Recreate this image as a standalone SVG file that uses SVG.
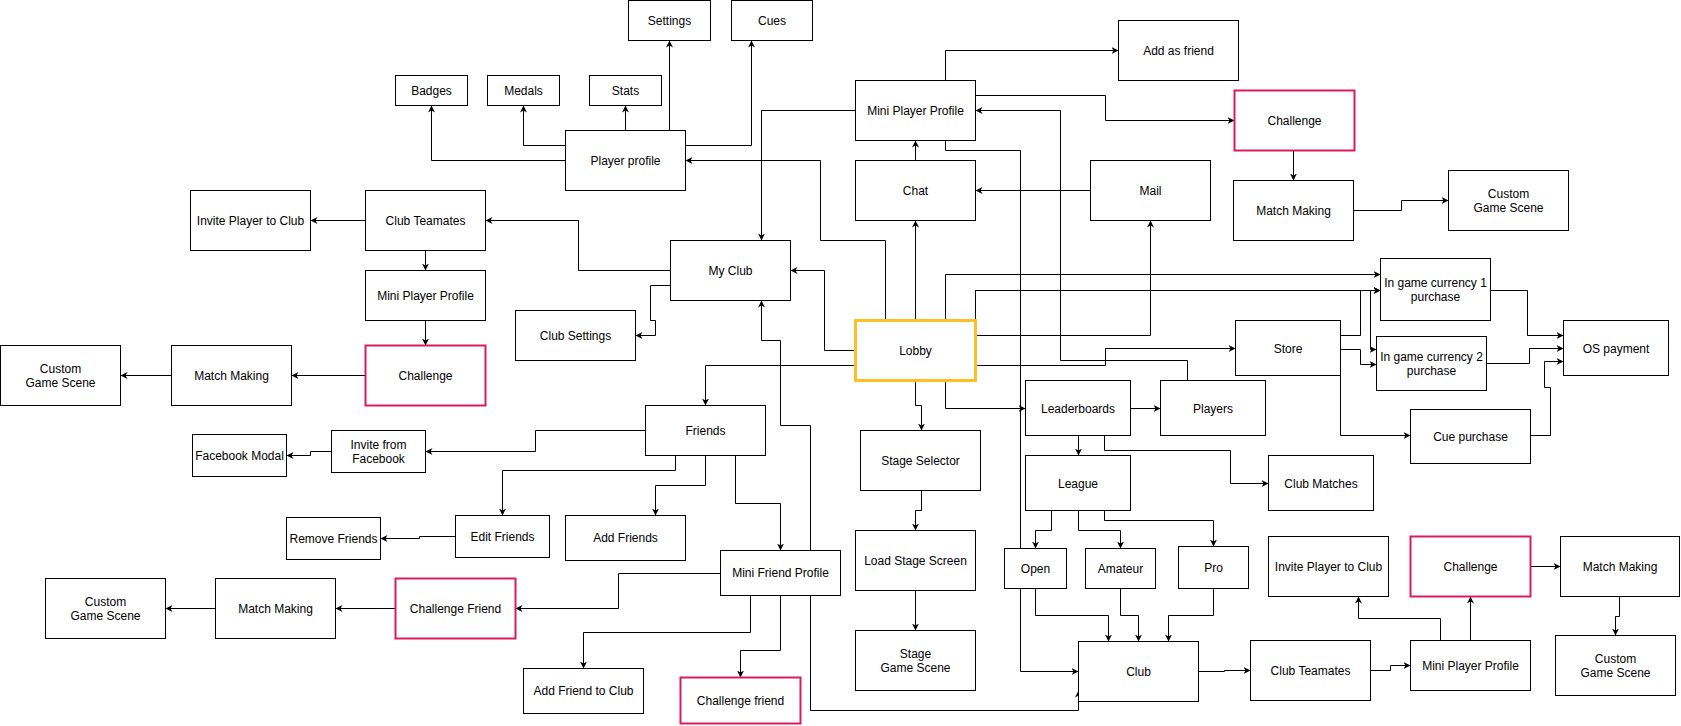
<svg xmlns="http://www.w3.org/2000/svg" width="1681" height="726" viewBox="0 0 1681 726">
<style>
rect{fill:#fff;stroke:#000;stroke-width:1}
rect.r{stroke:#DA1C5A;stroke-width:2}
rect.y{stroke:#FDBF23;stroke-width:3}
text{font-family:"Liberation Sans",Arial,Helvetica,sans-serif;font-size:12px;fill:#000;text-anchor:middle}
#edges path{fill:none;stroke:#000;stroke-width:1;marker-end:url(#a)}
</style>
<defs>
<marker id="a" markerWidth="9" markerHeight="9" refX="7" refY="4" orient="auto-start-reverse" markerUnits="userSpaceOnUse"><path d="M0,0.5 L7,4 L0,7.5 L2,4 Z" fill="#000"/></marker>
</defs>
<rect x="0" y="0" width="1681" height="726" style="stroke:none;fill:#fff"/>
<g transform="translate(0.5,0.5)">
<g id="edges">
<path d="M669,130V40"/>
<path d="M625,130V105"/>
<path d="M685,145H751V40"/>
<path d="M565,145H523V105"/>
<path d="M565,160H431V105"/>
<path d="M885,320V240H820V160H685"/>
<path d="M915,320V220"/>
<path d="M915,160V140"/>
<path d="M945,80V50H1118"/>
<path d="M975,95H1105V120H1234"/>
<path d="M1293,150V180"/>
<path d="M1353,210H1401V200H1448"/>
<path d="M855,110H761V240"/>
<path d="M1090,190H975"/>
<path d="M975,335H1150V220"/>
<path d="M1187,380V360H1060V110H975"/>
<path d="M945,140V150H1020V671H1078"/>
<path d="M855,350H824V270H790"/>
<path d="M670,270H578V220H485"/>
<path d="M670,285H650V320H655V335H635"/>
<path d="M365,220H310"/>
<path d="M425,250V270"/>
<path d="M425,320V345"/>
<path d="M365,375H291"/>
<path d="M171,375H120"/>
<path d="M945,320V274H1380"/>
<path d="M975,320V290H1380"/>
<path d="M975,320V290H1370V349H1376"/>
<path d="M1340,335H1360V290H1380"/>
<path d="M1340,349H1360V364H1376"/>
<path d="M1340,375V435H1410"/>
<path d="M1490,290H1527V335H1563"/>
<path d="M1486,363H1529V348H1563"/>
<path d="M1530,435H1550V387H1544V361H1563"/>
<path d="M975,365H1105V348H1235"/>
<path d="M945,380V408H1025"/>
<path d="M1130,408H1160"/>
<path d="M1078,435V455"/>
<path d="M1104,435V450H1230V483H1268"/>
<path d="M1051,510V530H1035V548"/>
<path d="M1078,510V530H1120V548"/>
<path d="M1104,510V520H1213V546"/>
<path d="M1035,588V615H1108V641"/>
<path d="M1120,588V615H1138V641"/>
<path d="M1213,588V615H1168V641"/>
<path d="M1198,671H1224V670H1250"/>
<path d="M1370,670H1390V665H1410"/>
<path d="M1440,640V618H1358V596"/>
<path d="M1470,640V596"/>
<path d="M1530,566H1560"/>
<path d="M1619,596V616H1615V635"/>
<path d="M855,365H705V405"/>
<path d="M645,430H535V451H425"/>
<path d="M331,451H310V455H286"/>
<path d="M675,455V470H502V515"/>
<path d="M455,536H419V538H380"/>
<path d="M705,455V485H655V515"/>
<path d="M735,455V503H780V550"/>
<path d="M720,573H618V608H515"/>
<path d="M395,608H335"/>
<path d="M215,608H165"/>
<path d="M750,595V632H583V668"/>
<path d="M780,595V650H740V677"/>
<path d="M761,300V340H780V425H810V710H1078V690" style="marker-start:url(#a)"/>
<path d="M915,380V405H921V430"/>
<path d="M921,490V510H915V530"/>
<path d="M915,590V630"/>
</g>
<g id="n-settings"><rect x="628" y="0" width="82" height="40"/><text x="669" y="24">Settings</text></g>
<g id="n-cues"><rect x="731" y="0" width="81" height="40"/><text x="771.5" y="24">Cues</text></g>
<g id="n-badges"><rect x="395" y="75" width="72" height="30"/><text x="431" y="94">Badges</text></g>
<g id="n-medals"><rect x="487" y="75" width="72" height="30"/><text x="523" y="94">Medals</text></g>
<g id="n-stats"><rect x="589" y="75" width="72" height="30"/><text x="625" y="94">Stats</text></g>
<g id="n-player-profile"><rect x="565" y="130" width="120" height="60"/><text x="625" y="164">Player profile</text></g>
<g id="n-mini-player-profile-top"><rect x="855" y="80" width="120" height="60"/><text x="915" y="114">Mini Player Profile</text></g>
<g id="n-add-as-friend"><rect x="1118" y="20" width="120" height="60"/><text x="1178" y="54">Add as friend</text></g>
<g id="n-challenge-top"><rect class="r" x="1234" y="90" width="120" height="60"/><text x="1294" y="124">Challenge</text></g>
<g id="n-chat"><rect x="855" y="160" width="120" height="60"/><text x="915" y="194">Chat</text></g>
<g id="n-mail"><rect x="1090" y="160" width="120" height="60"/><text x="1150" y="194">Mail</text></g>
<g id="n-match-making-top"><rect x="1233" y="180" width="120" height="60"/><text x="1293" y="214">Match Making</text></g>
<g id="n-custom-game-top"><rect x="1448" y="170" width="120" height="60"/><text x="1508" y="197">Custom</text><text x="1508" y="211">Game Scene</text></g>
<g id="n-invite-player-left"><rect x="190" y="190" width="120" height="60"/><text x="250" y="224">Invite Player to Club</text></g>
<g id="n-club-teamates-left"><rect x="365" y="190" width="120" height="60"/><text x="425" y="224">Club Teamates</text></g>
<g id="n-my-club"><rect x="670" y="240" width="120" height="60"/><text x="730" y="274">My Club</text></g>
<g id="n-mini-player-profile-left"><rect x="365" y="270" width="120" height="50"/><text x="425" y="299">Mini Player Profile</text></g>
<g id="n-club-settings"><rect x="515" y="310" width="120" height="50"/><text x="575" y="339">Club Settings</text></g>
<g id="n-lobby"><rect class="y" x="855" y="320" width="120" height="60"/><text x="915" y="354">Lobby</text></g>
<g id="n-currency1"><rect x="1380" y="258" width="110" height="62"/><text x="1435" y="286">In game currency 1</text><text x="1435" y="300">purchase</text></g>
<g id="n-store"><rect x="1235" y="320" width="105" height="55"/><text x="1287.5" y="352">Store</text></g>
<g id="n-currency2"><rect x="1376" y="336" width="110" height="54"/><text x="1431" y="360">In game currency 2</text><text x="1431" y="374">purchase</text></g>
<g id="n-os-payment"><rect x="1563" y="320" width="105" height="55"/><text x="1615.5" y="352">OS payment</text></g>
<g id="n-custom-game-left"><rect x="0" y="345" width="120" height="60"/><text x="60" y="372">Custom</text><text x="60" y="386">Game Scene</text></g>
<g id="n-match-making-left"><rect x="171" y="345" width="120" height="60"/><text x="231" y="379">Match Making</text></g>
<g id="n-challenge-left"><rect class="r" x="365" y="345" width="120" height="60"/><text x="425" y="379">Challenge</text></g>
<g id="n-leaderboards"><rect x="1025" y="380" width="105" height="55"/><text x="1077.5" y="412">Leaderboards</text></g>
<g id="n-players"><rect x="1160" y="380" width="105" height="55"/><text x="1212.5" y="412">Players</text></g>
<g id="n-friends"><rect x="645" y="405" width="120" height="50"/><text x="705" y="434">Friends</text></g>
<g id="n-cue-purchase"><rect x="1410" y="409" width="120" height="54"/><text x="1470" y="440">Cue purchase</text></g>
<g id="n-facebook-modal"><rect x="192" y="434" width="94" height="42"/><text x="239" y="459">Facebook Modal</text></g>
<g id="n-invite-facebook"><rect x="331" y="430" width="94" height="42"/><text x="378" y="448">Invite from</text><text x="378" y="462">Facebook</text></g>
<g id="n-stage-selector"><rect x="860" y="430" width="120" height="60"/><text x="920" y="464">Stage Selector</text></g>
<g id="n-league"><rect x="1025" y="455" width="105" height="55"/><text x="1077.5" y="487">League</text></g>
<g id="n-club-matches"><rect x="1268" y="455" width="105" height="55"/><text x="1320.5" y="487">Club Matches</text></g>
<g id="n-edit-friends"><rect x="455" y="515" width="94" height="42"/><text x="502" y="540">Edit Friends</text></g>
<g id="n-remove-friends"><rect x="286" y="517" width="94" height="42"/><text x="333" y="542">Remove Friends</text></g>
<g id="n-add-friends"><rect x="565" y="515" width="120" height="45"/><text x="625" y="541">Add Friends</text></g>
<g id="n-load-stage"><rect x="855" y="530" width="120" height="60"/><text x="915" y="564">Load Stage Screen</text></g>
<g id="n-invite-player-right"><rect x="1268" y="536" width="120" height="60"/><text x="1328" y="570">Invite Player to Club</text></g>
<g id="n-challenge-right"><rect class="r" x="1410" y="536" width="120" height="60"/><text x="1470" y="570">Challenge</text></g>
<g id="n-match-making-right"><rect x="1560" y="536" width="119" height="60"/><text x="1619.5" y="570">Match Making</text></g>
<g id="n-open"><rect x="1004" y="548" width="62" height="40"/><text x="1035" y="572">Open</text></g>
<g id="n-amateur"><rect x="1085" y="548" width="70" height="40"/><text x="1120" y="572">Amateur</text></g>
<g id="n-pro"><rect x="1178" y="546" width="70" height="42"/><text x="1213" y="571">Pro</text></g>
<g id="n-mini-friend-profile"><rect x="720" y="550" width="120" height="45"/><text x="780" y="576">Mini Friend Profile</text></g>
<g id="n-challenge-friend"><rect class="r" x="395" y="578" width="120" height="60"/><text x="455" y="612">Challenge Friend</text></g>
<g id="n-match-making-bottom"><rect x="215" y="578" width="120" height="60"/><text x="275" y="612">Match Making</text></g>
<g id="n-custom-game-bottom"><rect x="45" y="578" width="120" height="60"/><text x="105" y="605">Custom</text><text x="105" y="619">Game Scene</text></g>
<g id="n-stage-game"><rect x="855" y="630" width="120" height="60"/><text x="915" y="657">Stage</text><text x="915" y="671">Game Scene</text></g>
<g id="n-custom-game-right"><rect x="1555" y="635" width="120" height="60"/><text x="1615" y="662">Custom</text><text x="1615" y="676">Game Scene</text></g>
<g id="n-club"><rect x="1078" y="641" width="120" height="60"/><text x="1138" y="675">Club</text></g>
<g id="n-club-teamates-right"><rect x="1250" y="640" width="120" height="60"/><text x="1310" y="674">Club Teamates</text></g>
<g id="n-mini-player-profile-right"><rect x="1410" y="640" width="120" height="50"/><text x="1470" y="669">Mini Player Profile</text></g>
<g id="n-add-friend-to-club"><rect x="523" y="668" width="120" height="45"/><text x="583" y="694">Add Friend to Club</text></g>
<g id="n-challenge-friend-lower"><rect class="r" x="680" y="677" width="120" height="46"/><text x="740" y="704">Challenge friend</text></g>
</g>
</svg>
